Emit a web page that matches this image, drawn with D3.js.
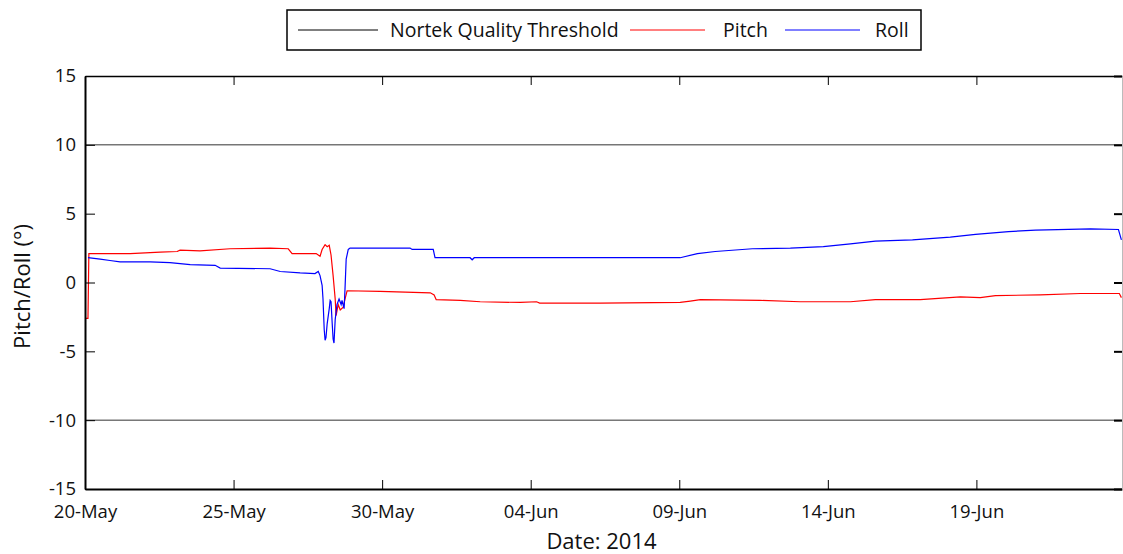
<!DOCTYPE html>
<html><head><meta charset="utf-8">
<script src="https://cdn.jsdelivr.net/npm/d3@7"></script>
<style>body{margin:0;background:#fff}svg{display:block}text{font-family:"Open Sans",Lato,sans-serif;fill:#111}</style>
</head><body><svg id="c" width="1123" height="554"></svg>
<script>
// Days since 2014-05-20 00:00 and values (degrees)
const pitchDays = [0.00,0.10,0.13,1.52,2.53,3.10,3.20,3.87,4.88,6.23,6.84,6.97,7.78,7.91,7.98,8.08,8.15,8.22,8.28,8.35,8.42,8.45,8.52,8.59,8.69,8.75,8.82,9.93,11.62,11.75,11.82,12.63,13.30,14.65,15.20,15.30,17.34,20.03,20.37,20.71,22.73,24.07,25.76,26.60,28.11,29.46,30.13,30.64,32.15,33.50,34.81,34.88];
const pitchValues = [-2.6,-2.6,2.1,2.1,2.2,2.25,2.35,2.3,2.45,2.5,2.45,2.1,2.1,1.9,2.4,2.75,2.6,2.7,2.0,0.5,-1.2,-2.4,-1.6,-2.0,-1.8,-1.2,-0.6,-0.65,-0.75,-0.9,-1.25,-1.3,-1.4,-1.45,-1.4,-1.5,-1.5,-1.45,-1.35,-1.25,-1.3,-1.4,-1.4,-1.25,-1.25,-1.05,-1.1,-0.95,-0.9,-0.8,-0.8,-1.1];
const rollDays = [0.10,0.51,0.84,1.18,2.19,2.86,3.54,4.38,4.55,6.23,6.57,7.24,7.74,7.85,7.91,7.98,8.01,8.05,8.08,8.11,8.15,8.22,8.25,8.28,8.32,8.35,8.38,8.42,8.48,8.55,8.62,8.65,8.72,8.75,8.79,8.86,8.92,10.94,11.01,11.72,11.78,12.96,13.03,13.10,20.03,20.61,21.21,22.46,23.74,24.85,25.76,26.60,27.85,29.12,29.97,31.08,31.99,33.84,34.78,34.88];
const rollValues = [1.8,1.7,1.6,1.5,1.5,1.45,1.3,1.25,1.05,1.0,0.8,0.7,0.65,0.8,0.5,-0.2,-1.2,-3.4,-4.2,-4.0,-3.0,-1.9,-1.3,-1.4,-3.0,-4.1,-4.4,-2.7,-1.6,-1.2,-1.6,-1.3,-1.9,-0.5,1.7,2.4,2.5,2.5,2.4,2.4,1.8,1.8,1.65,1.8,1.8,2.1,2.25,2.45,2.5,2.6,2.8,3.0,3.1,3.3,3.5,3.7,3.8,3.9,3.85,3.1];
const thresholds = [10, -10];
const yTicks = [-15,-10,-5,0,5,10,15];
const xTickDates = ["2014-05-20","2014-05-25","2014-05-30","2014-06-04","2014-06-09","2014-06-14","2014-06-19"];
const legendLabels = ["Nortek Quality Threshold","Pitch","Roll"];
const legendColors = ["#000","#ff0000","#0000ff"];

const svg = d3.select("#c");
const L=85,R=1122,T=76,B=489;
const start = new Date(2014,4,20);
const toDate = d => new Date(start.getTime()+d*86400000);
const x = d3.scaleTime().domain([start, toDate(34.9)]).range([L,R]);
const y = d3.scaleLinear().domain([-15,15]).range([B,T]);
const parse = d3.timeParse("%Y-%m-%d");

svg.selectAll(".thr").data(thresholds).join("line")
  .attr("x1",L).attr("x2",R).attr("y1",d=>y(d)).attr("y2",d=>y(d))
  .attr("stroke","#333").attr("stroke-width",1);

const line = d3.line().x(d=>x(toDate(d[0]))).y(d=>y(d[1]));
svg.append("path").datum(pitchDays.map((d,i)=>[d,pitchValues[i]]))
  .attr("d",line).attr("fill","none").attr("stroke","#ff0000").attr("stroke-width",1.2);
svg.append("path").datum(rollDays.map((d,i)=>[d,rollValues[i]]))
  .attr("d",line).attr("fill","none").attr("stroke","#0000ff").attr("stroke-width",1.2);

const fmt = d3.timeFormat("%d-%b");
const xt = xTickDates.map(parse);
const gx = svg.append("g").attr("transform",`translate(0,${B})`)
  .call(d3.axisBottom(x).tickValues(xt).tickFormat(fmt).tickSizeInner(-9).tickSizeOuter(0).tickPadding(16));
gx.select(".domain").attr("stroke","#000").attr("stroke-width",2);
gx.selectAll(".tick text").style("font-size","18.5px").attr("fill","#111");
const gxt = svg.append("g").attr("transform",`translate(0,${T})`)
  .call(d3.axisTop(x).tickValues(xt).tickFormat("").tickSizeInner(-9).tickSizeOuter(0));
gxt.select(".domain").attr("stroke","#000").attr("stroke-width",1.5);

const gy = svg.append("g").attr("transform",`translate(${L},0)`)
  .call(d3.axisLeft(y).tickValues(yTicks).tickFormat(d=>String(d)).tickSizeInner(-10).tickSizeOuter(0).tickPadding(9));
gy.select(".domain").attr("stroke","#000").attr("stroke-width",2);
gy.selectAll(".tick text").style("font-size","18.5px").attr("fill","#111");
const gyr = svg.append("g").attr("transform",`translate(${R},0)`)
  .call(d3.axisRight(y).tickValues(yTicks).tickFormat("").tickSizeInner(-8).tickSizeOuter(0));
gyr.select(".domain").attr("stroke","#bbb").attr("stroke-width",1);
gyr.selectAll(".tick line").attr("stroke","#000").attr("stroke-width",2);

svg.append("text").attr("x",(L+R)/2 - 2).attr("y",549).attr("text-anchor","middle").style("font-size","22px").text("Date: 2014");
svg.append("text").attr("transform",`translate(30,${(T+B)/2+4}) rotate(-90)`).attr("text-anchor","middle").style("font-size","22px").text("Pitch/Roll (°)");

const lg = svg.append("g");
lg.append("rect").attr("x",287).attr("y",10).attr("width",634).attr("height",40).attr("fill","#fff").attr("stroke","#000").attr("stroke-width",1.5);
const itemX = [[298,378,390],[630,705,723],[785,860,875]];
legendLabels.forEach((t,i)=>{
  lg.append("line").attr("x1",itemX[i][0]).attr("x2",itemX[i][1]).attr("y1",30).attr("y2",30).attr("stroke",legendColors[i]).attr("stroke-width",1);
  lg.append("text").attr("x",itemX[i][2]).attr("y",37).style("font-size","19.5px").text(t);
});
</script></body></html>
